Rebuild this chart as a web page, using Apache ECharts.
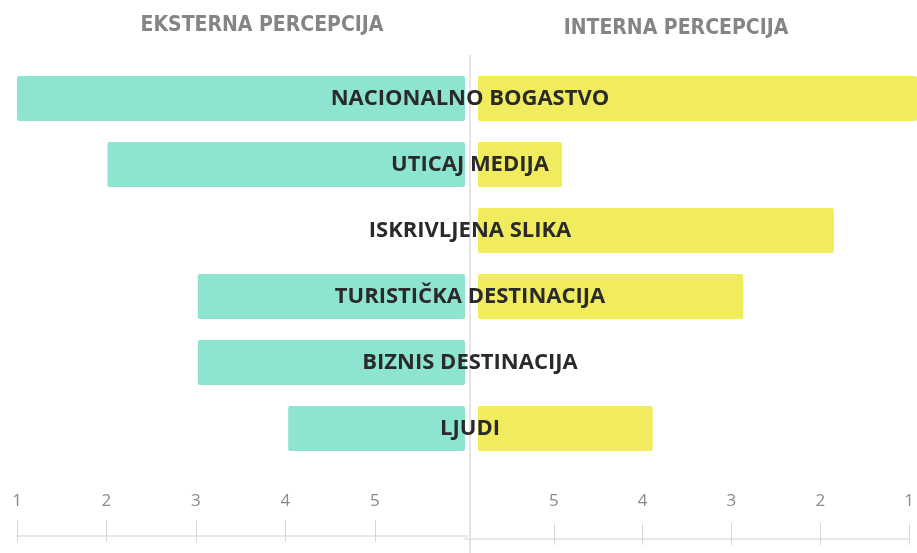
<!DOCTYPE html>
<html>
<head>
<meta charset="utf-8">
<script src="https://cdn.jsdelivr.net/npm/echarts@6/dist/echarts.min.js"></script>
<style>
	html, body { margin: 0; padding: 0; background: #fff; }
	#chart { width: 917px; height: 553px; }
</style>
</head>
<body>
<div id="chart"></div>
<script>
	// rows, top to bottom
	var categories = ['NACIONALNO BOGASTVO', 'UTICAJ MEDIJA', 'ISKRIVLJENA SLIKA',
		'TURISTIČKA DESTINACIJA', 'BIZNIS DESTINACIJA', 'LJUDI'];
	// rank (1 = best), null = no bar
	var eksterna = [1, 2, null, 3, 3, 4];
	var interna = [1, 5, 2, 3, null, 4];
	var tickLabels = [1, 2, 3, 4, 5];

	var EXT_END = 5.956;  // where the left bars stop (centre)
	var INT_END = 5.928;  // where the right bars start (centre)

	function base(arr) {
		return arr.map(function (v) { return v == null ? '-' : v; });
	}
	function len(arr, end) {
		return arr.map(function (v) { return v == null ? '-' : +(end - v).toFixed(3); });
	}

	var labelFont = "'Open Sans', sans-serif";
	var titleFont = "'Liberation Sans Narrow', 'DejaVu Sans Condensed', sans-serif";
	var tickStyle = { color: '#d8d8d8' };

	var chart = echarts.init(document.getElementById('chart'));
	chart.setOption({
		animation: false,
		title: [
			{ text: 'EKSTERNA PERCEPCIJA', left: 257, top: 10, textAlign: 'center',
				textStyle: { fontFamily: titleFont, fontSize: 21, fontWeight: 'bold', color: '#858585' } },
			{ text: 'INTERNA PERCEPCIJA', left: 671, top: 13, textAlign: 'center',
				textStyle: { fontFamily: titleFont, fontSize: 21, fontWeight: 'bold', color: '#858585' } }
		],
		graphic: [{
			type: 'line', silent: true, z: 1,
			shape: { x1: 470, y1: 55, x2: 470, y2: 553 },
			style: { stroke: '#e4e4e4', lineWidth: 2 }
		}],
		grid: [
			{ left: 17, width: 448, top: 65.5, height: 396 },    // left bars
			{ left: 478, width: 439, top: 65.5, height: 396 },   // right bars
			{ left: 17, width: 450, top: 520, height: 22 },      // left scale
			{ left: 465, width: 452, top: 520, height: 22 }      // right scale
		],
		xAxis: [
			{ gridIndex: 0, type: 'value', min: 1, max: EXT_END, show: false },
			{ gridIndex: 1, type: 'value', min: 1.083, max: INT_END, inverse: true, show: false },
			{ gridIndex: 2, type: 'value', min: 1, max: 6.03, interval: 1, position: 'bottom', offset: -6,
				splitLine: { show: false },
				axisLine: { lineStyle: { color: '#e0e0e0', width: 1.5 } },
				axisTick: { inside: true, length: 16, customValues: tickLabels, lineStyle: tickStyle },
				axisLabel: { inside: true, margin: 26, customValues: tickLabels,
					fontFamily: labelFont, fontSize: 17, color: '#8a8a8a' } },
			{ gridIndex: 2, type: 'value', min: 1, max: 6.03, interval: 1, position: 'bottom', offset: -6,
				splitLine: { show: false }, axisLine: { show: false }, axisLabel: { show: false },
				axisTick: { length: 6, customValues: tickLabels, lineStyle: tickStyle } },
			{ gridIndex: 3, type: 'value', min: 1, max: 6, interval: 1, inverse: true, position: 'bottom', offset: -3,
				splitLine: { show: false },
				axisLine: { lineStyle: { color: '#e0e0e0', width: 1.5 } },
				axisTick: { inside: true, length: 16, customValues: tickLabels, lineStyle: tickStyle },
				axisLabel: { inside: true, margin: 29, customValues: tickLabels, alignMinLabel: 'center',
					fontFamily: labelFont, fontSize: 17, color: '#8a8a8a' } },
			{ gridIndex: 3, type: 'value', min: 1, max: 6, interval: 1, inverse: true, position: 'bottom', offset: -3,
				splitLine: { show: false }, axisLine: { show: false }, axisLabel: { show: false },
				axisTick: { length: 6, customValues: tickLabels, lineStyle: tickStyle } }
		],
		yAxis: [
			{ gridIndex: 0, type: 'category', data: categories, inverse: true, show: false },
			{ gridIndex: 1, type: 'category', data: categories, inverse: true, z: 10,
				axisLine: { show: false }, axisTick: { show: false },
				axisLabel: { align: 'center', margin: 8, padding: [4, 0, 0, 0], fontFamily: labelFont,
					fontSize: 22, fontWeight: 'bold', color: '#2a2a2a' } },
			{ gridIndex: 2, type: 'value', show: false },
			{ gridIndex: 3, type: 'value', show: false }
		],
		series: [
			{ name: 'ext-base', type: 'bar', xAxisIndex: 0, yAxisIndex: 0, stack: 'ext', silent: true,
				barWidth: 45, itemStyle: { color: 'transparent' }, data: base(eksterna) },
			{ name: 'Eksterna', type: 'bar', xAxisIndex: 0, yAxisIndex: 0, stack: 'ext',
				barWidth: 45, itemStyle: { color: '#8de4d0', borderRadius: 2 }, data: len(eksterna, EXT_END) },
			{ name: 'int-base', type: 'bar', xAxisIndex: 1, yAxisIndex: 1, stack: 'int', silent: true,
				barWidth: 45, itemStyle: { color: 'transparent' }, data: base(interna) },
			{ name: 'Interna', type: 'bar', xAxisIndex: 1, yAxisIndex: 1, stack: 'int',
				barWidth: 45, itemStyle: { color: '#f1ec5d', borderRadius: 2 }, data: len(interna, INT_END) }
		]
	});
</script>
</body>
</html>
